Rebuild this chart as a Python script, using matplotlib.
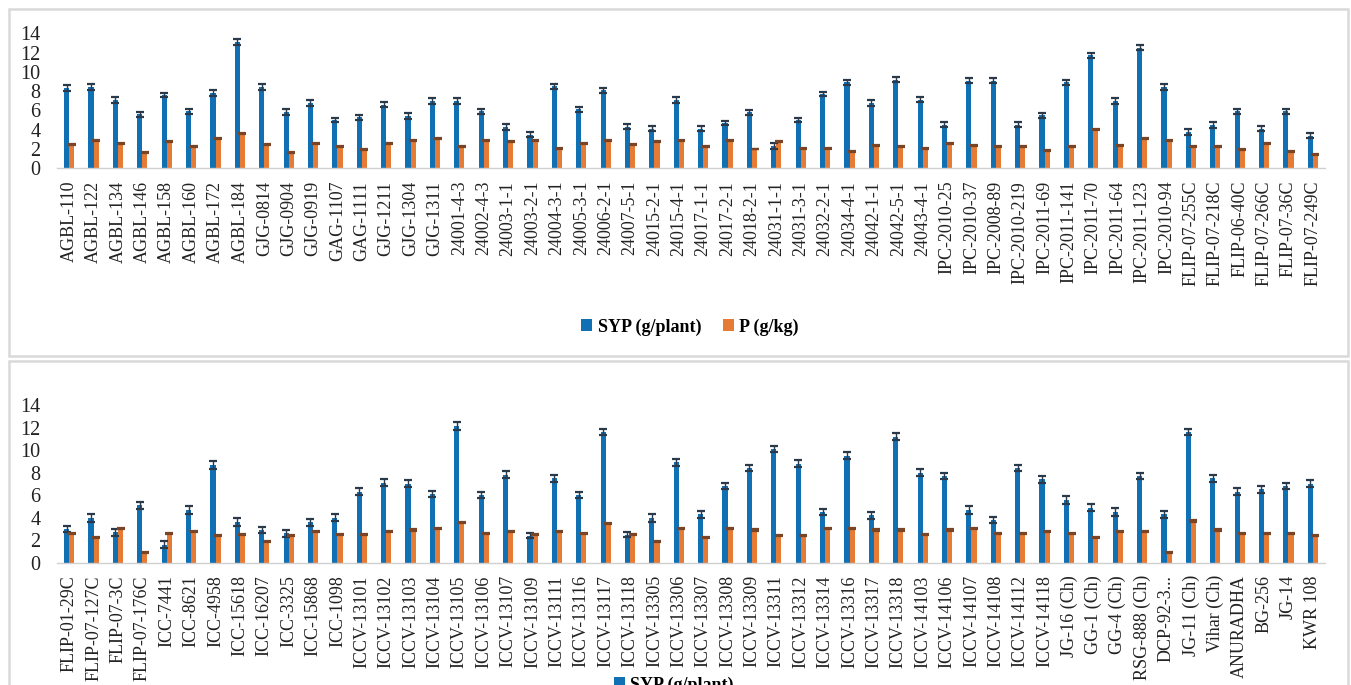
import matplotlib
matplotlib.use('Agg')
import matplotlib.pyplot as plt
from matplotlib.patches import Rectangle, Patch
import numpy as np

plt.rcParams['font.family'] = ['Liberation Serif', 'DejaVu Serif']

# ---------------- data ----------------
top_labels = ["AGBL-110", "AGBL-122", "AGBL-134", "AGBL-146", "AGBL-158", "AGBL-160", "AGBL-172", "AGBL-184",
              "GJG-0814", "GJG-0904", "GJG-0919", "GAG-1107", "GAG-1111", "GJG-1211", "GJG-1304", "GJG-1311",
              "24001-4-3", "24002-4-3", "24003-1-1", "24003-2-1", "24004-3-1", "24005-3-1", "24006-2-1",
              "24007-5-1", "24015-2-1", "24015-4-1", "24017-1-1", "24017-2-1", "24018-2-1", "24031-1-1",
              "24031-3-1", "24032-2-1", "24034-4-1", "24042-1-1", "24042-5-1", "24043-4-1",
              "IPC-2010-25", "IPC-2010-37", "IPC-2008-89", "IPC-2010-219", "IPC-2011-69", "IPC-2011-141",
              "IPC-2011-70", "IPC-2011-64", "IPC-2011-123", "IPC-2010-94",
              "FLIP-07-255C", "FLIP-07-218C", "FLIP-06-40C", "FLIP-07-266C", "FLIP-07-36C", "FLIP-07-249C"]
top_syp = [8.3, 8.4, 7.1, 5.6, 7.6, 5.9, 7.8, 13.1, 8.4, 5.8, 6.8, 5.0, 5.3, 6.6, 5.4, 7.0,
           7.0, 5.9, 4.3, 3.5, 8.5, 6.1, 8.1, 4.3, 4.1, 7.1, 4.1, 4.7, 5.8, 2.3, 5.0, 7.7, 8.9, 6.8, 9.2,
           7.1, 4.5, 9.1, 9.1, 4.5, 5.5, 8.9, 11.7, 7.0, 12.5, 8.4, 3.8, 4.5, 5.9, 4.1, 5.9, 3.4]
top_p = [2.5, 2.9, 2.6, 1.6, 2.8, 2.3, 3.1, 3.6, 2.5, 1.6, 2.6, 2.3, 1.9, 2.6, 2.9, 3.1,
         2.3, 2.9, 2.8, 2.9, 2.1, 2.6, 2.9, 2.5, 2.8, 2.9, 2.3, 2.9, 2.0, 2.8, 2.1, 2.1, 1.7, 2.4, 2.3,
         2.1, 2.6, 2.4, 2.3, 2.3, 1.8, 2.3, 4.0, 2.4, 3.1, 2.9, 2.3, 2.3, 1.9, 2.6, 1.7, 1.4]
top_syp_err = [0.3, 0.3, 0.3, 0.25, 0.25, 0.3, 0.3, 0.3, 0.3, 0.3, 0.3, 0.25, 0.25, 0.25, 0.3, 0.3,
               0.3, 0.3, 0.3, 0.25, 0.25, 0.25, 0.25, 0.25, 0.25, 0.3, 0.25, 0.25, 0.25, 0.3, 0.25, 0.25,
               0.25, 0.3, 0.3, 0.25, 0.25, 0.25, 0.25, 0.25, 0.25, 0.25, 0.3, 0.3, 0.25, 0.3, 0.3, 0.3,
               0.25, 0.25, 0.3, 0.3]
top_p_err = [0.05] * 52

bottom_labels = ["FLIP-01-29C", "FLIP-07-127C", "FLIP-07-3C", "FLIP-07-176C", "ICC-7441", "ICC-8621",
                 "ICC-4958", "ICC-15618", "ICC-16207", "ICC-3325", "ICC-15868", "ICC-1098",
                 "ICCV-13101", "ICCV-13102", "ICCV-13103", "ICCV-13104", "ICCV-13105", "ICCV-13106",
                 "ICCV-13107", "ICCV-13109", "ICCV-13111", "ICCV-13116", "ICCV-13117", "ICCV-13118",
                 "ICCV-13305", "ICCV-13306", "ICCV-13307", "ICCV-13308", "ICCV-13309", "ICCV-13311",
                 "ICCV-13312", "ICCV-13314", "ICCV-13316", "ICCV-13317", "ICCV-13318",
                 "ICCV-14103", "ICCV-14106", "ICCV-14107", "ICCV-14108", "ICCV-14112", "ICCV-14118",
                 "JG-16 (Ch)", "GG-1 (Ch)", "GG-4 (Ch)", "RSG-888 (Ch)", "DCP-92-3...", "JG-11 (Ch)",
                 "Vihar (Ch)", "ANURADHA", "BG-256", "JG-14", "KWR 108"]
bottom_syp = [3.0, 4.0, 2.7, 5.1, 1.6, 4.7, 8.7, 3.6, 2.9, 2.6, 3.6, 4.0,
              6.3, 7.1, 7.0, 6.1, 12.1, 6.0, 7.8, 2.4, 7.5, 6.0, 11.6, 2.5, 4.0, 8.9, 4.3, 6.8, 8.4,
              10.1, 8.8, 4.5, 9.5, 4.2, 11.2, 8.0, 7.7, 4.7, 3.8, 8.4, 7.4,
              5.6, 4.9, 4.5, 7.7, 4.3, 11.6, 7.5, 6.3, 6.5, 6.8, 7.0]
bottom_p = [2.6, 2.2, 3.0, 0.9, 2.6, 2.8, 2.4, 2.5, 1.9, 2.4, 2.8, 2.5, 2.5, 2.8, 2.9, 3.0,
            3.6, 2.6, 2.8, 2.5, 2.8, 2.6, 3.5, 2.5, 1.9, 3.0, 2.2, 3.0, 2.9, 2.4, 2.4, 3.0, 3.0, 2.9,
            2.9, 2.5, 2.9, 3.0, 2.6, 2.6, 2.8, 2.6, 2.2, 2.8, 2.8, 0.9, 3.7, 2.9, 2.6, 2.6, 2.6, 2.4]
bottom_syp_err = [0.3, 0.35, 0.3, 0.3, 0.3, 0.35, 0.35, 0.35, 0.3, 0.3, 0.3, 0.3,
                  0.3, 0.3, 0.3, 0.3, 0.35, 0.3, 0.3, 0.2, 0.3, 0.3, 0.3, 0.2, 0.35, 0.3, 0.3, 0.3,
                  0.3, 0.3, 0.3, 0.3, 0.3, 0.3, 0.3, 0.3, 0.3, 0.35, 0.3, 0.3, 0.3, 0.35, 0.35, 0.35,
                  0.3, 0.3, 0.3, 0.3, 0.3, 0.3, 0.3, 0.3]
bottom_p_err = [0.05] * 52

yticks = [0, 2, 4, 6, 8, 10, 12, 14]
series_names = ["SYP (g/plant)", "P (g/kg)"]

# ---------------- style ----------------
W, H = 1351, 685
BLUE = '#1170B4'
ORANGE = '#E67B35'
BLUE_ERR = '#2b3a4a'
ORANGE_ERR = '#7a4426'

fig = plt.figure(figsize=(W / 100, H / 100), dpi=100)
fig.patch.set_facecolor('white')


def px_axes(left, right, top, bottom):
    return fig.add_axes([left / W, 1 - bottom / H, (right - left) / W, (bottom - top) / H])


def draw_panel(ax, labels, syp, p, syp_err, p_err):
    x = np.arange(len(labels))
    bw = 0.21
    ax.bar(x - bw / 2, syp, bw, color=BLUE, yerr=syp_err, capsize=3.2,
           error_kw=dict(ecolor=BLUE_ERR, elinewidth=1.0, capthick=1.6), zorder=2)
    ax.bar(x + bw / 2, p, bw, color=ORANGE, yerr=p_err, capsize=3.2,
           error_kw=dict(ecolor=ORANGE_ERR, elinewidth=1.0, capthick=1.6), zorder=2)
    ax.set_xlim(-0.5, len(labels) - 0.5)
    ax.set_ylim(0, 14)
    ax.set_yticks(yticks)
    ax.set_yticklabels([str(t) for t in yticks], fontsize=14.5)
    ax.set_xticks(x)
    ax.set_xticklabels(labels, rotation=90, fontsize=13)
    for s in ['top', 'right', 'left']:
        ax.spines[s].set_visible(False)
    ax.spines['bottom'].set_color('#d0d0d0')
    ax.spines['bottom'].set_linewidth(1.0)
    ax.tick_params(axis='y', length=0, pad=12, colors='#222222')
    ax.tick_params(axis='x', length=0, pad=9, colors='#222222')
    ax.set_facecolor('none')


# panel frames
for (t, b) in [(8.5, 355.5), (361, 700)]:
    fig.patches.append(Rectangle((9 / W, 1 - b / H), (1348 - 9) / W, (b - t) / H,
                                 transform=fig.transFigure, fill=False,
                                 edgecolor='#d9d9d9', linewidth=1.8, zorder=0))

ax1 = px_axes(57, 1325, 33.3, 168.3)
draw_panel(ax1, top_labels, top_syp, top_p, top_syp_err, top_p_err)

ax2 = px_axes(57, 1325, 405, 562.7)
draw_panel(ax2, bottom_labels, bottom_syp, bottom_p, bottom_syp_err, bottom_p_err)

handles = [Patch(facecolor=BLUE), Patch(facecolor=ORANGE)]
leg_font = dict(family='Liberation Serif', weight='bold', size=13)
fig.legend(handles, series_names, loc='center', bbox_to_anchor=(690 / W, 1 - 327 / H),
           ncol=2, frameon=False, prop=leg_font, handlelength=0.6, handleheight=0.6,
           handletextpad=0.3, columnspacing=1.2)
fig.legend(handles, series_names, loc='upper left', bbox_to_anchor=(598 / W, 1 - 660 / H),
           ncol=1, frameon=False, prop=leg_font, handlelength=0.6, handleheight=0.6,
           handletextpad=0.3, labelspacing=0.6)

fig.savefig('out.png', dpi=100, facecolor='white')
